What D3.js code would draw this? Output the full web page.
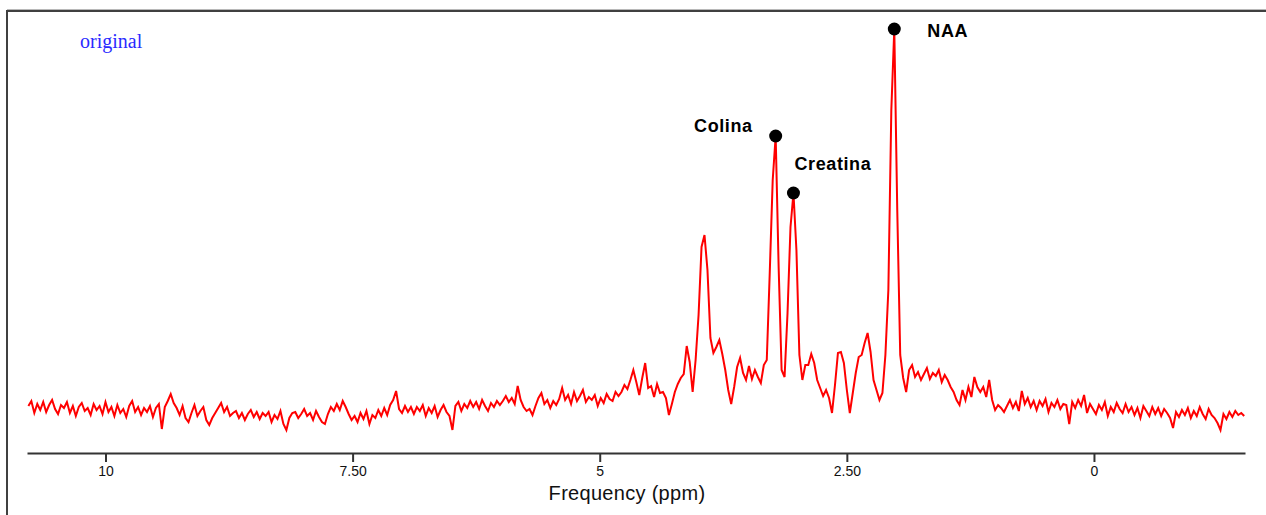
<!DOCTYPE html>
<html>
<head>
<meta charset="utf-8">
<script src="https://cdn.jsdelivr.net/npm/d3@7"></script>
<style>
  html, body { margin: 0; padding: 0; background: #ffffff; }
  svg { display: block; }
</style>
</head>
<body>
<svg id="chart" width="1266" height="515"></svg>
<script>
// ---- Data ----
// Spectrum sampled on a uniform frequency grid (ppm), starting at ppmStart, step ppmStep (decreasing ppm)
const ppmStart = 10.78;
const ppmStep = 0.03;
// Signal intensity (arbitrary units), one value per grid point
const intensity = [
  4, 9, -3, 6, 0, 8, -2, 5, 10, 1,
  -4, 5, 2, 8, -3, 4, -6, 3, 7, -1,
  2, -5, 6, 0, 4, -4, 8, -2, 3, -6,
  5, -3, 1, -7, 4, 9, -2, 3, -5, 2,
  -2, 4, -7, 2, 6, -19, 3, 9, 16, 7,
  2, -5, 4, -8, -12, -3, 5, -6, -1, 3,
  -10, -15, -8, -3, 2, 7, -2, 3, -6, -3,
  -1, -8, -3, -10, -4, 0, -7, -2, -9, -3,
  -6, -2, -12, -5, -9, -1, -14, -20, -8, -3,
  -2, -8, -4, 1, -6, -3, -10, -1, -7, -12,
  -14, -4, 3, -1, 6, 0, 9, 3, -4, -10,
  -6, -12, -3, -9, -1, -14, -5, -8, 0, -6,
  2, -5, 5, 10, 19, 1, -3, 4, -2, 3,
  -4, 3, -1, 5, -6, 2, -3, 4, -7, 0,
  5, -2, -6, -20, 4, 8, -1, 6, 2, 9,
  3, 8, 1, 10, 4, -1, 7, 3, 9, 5,
  9, 14, 8, 12, 6, 24, 10, 3, -1, 1,
  -5, 4, 12, 17, 6, 10, 2, 9, 5, 11,
  22, 10, 15, 6, 18, 9, 14, 20, 8, 13,
  10, 15, 4, 12, 7, 16, 11, 9, 18, 14,
  18, 25, 21, 30, 40, 28, 15, 32, 47, 22,
  24, 13, 26, 17, 18, 12, -5, 6, 18, 26,
  32, 36, 64, 48, 18, 50, 95, 163, 175, 140,
  72, 57, 63, 70, 56, 40, 20, 6, 23, 43,
  52, 37, 30, 44, 31, 40, 33, 27, 45, 50,
  137, 230, 274, 143, 40, 33, 97, 183, 217, 160,
  55, 30, 45, 45, 56, 47, 30, 22, 14, 20,
  12, -3, 25, 57, 58, 47, 20, -3, 17, 37,
  53, 55, 67, 77, 58, 30, 20, 10, 17, 55,
  120, 300, 381, 200, 55, 32, 18, 40, 45, 33,
  38, 30, 36, 42, 31, 37, 34, 40, 28, 35,
  30, 23, 18, 10, 5, 20, 10, 23, 13, 33,
  23, 18, 23, 13, 30, 10, 0, 5, 2, -2,
  4, 10, 2, 8, -1, 19, 6, 12, 3, 9,
  0, 9, 4, 11, -2, 7, 3, 10, 1, 6,
  5, -14, 8, 2, 10, 4, 15, -3, 6, 1,
  -4, 5, 0, 8, -6, 3, -2, 7, 1, -3,
  6, -2, 3, -5, 2, -8, 4, -1, -6, 3,
  -4, 2, -6, 1, -3, -8, -18, -2, -7, 0,
  -5, 2, -8, -1, -6, 3, -4, -9, 1, -5,
  -8, -13, -20, -4, -9, -2, -7, -1, -5, -3, -6
];
// Labelled metabolite peaks
const peakNames = ["Colina", "Creatina", "NAA"];
const peakPpm = [3.22, 3.04, 2.02];
// Axis ticks
const tickValues = [10, 7.5, 5, 2.5, 0];
const tickLabels = ["10", "7.50", "5", "2.50", "0"];
const axisTitle = "Frequency (ppm)";
const seriesLabel = "original";

// ---- Layout / style ----
const W = 1266, H = 515;
const ppmDomain = [10.794, -1.528];
const plot = { left: 27, right: 1245, axisY: 453, baseY: 410, topY: 29 };
const labelOffsets = {
  "Colina":   { dx: -23, dy: -4, anchor: "end" },
  "Creatina": { dx: 1, dy: -23, anchor: "start" },
  "NAA":      { dx: 33, dy: 8, anchor: "start" }
};

const svg = d3.select("#chart");
svg.append("rect").attr("width", W).attr("height", H).attr("fill", "#ffffff");

// frame (left and top edges visible)
svg.append("line").attr("x1", 7).attr("x2", W).attr("y1", 9.5).attr("y2", 9.5)
  .attr("stroke", "#b8b8b8").attr("stroke-width", 1);
svg.append("line").attr("x1", 7).attr("x2", W).attr("y1", 11).attr("y2", 11)
  .attr("stroke", "#404040").attr("stroke-width", 2);
svg.append("line").attr("x1", 7).attr("x2", 7).attr("y1", 10).attr("y2", H)
  .attr("stroke", "#404040").attr("stroke-width", 2);

const x = d3.scaleLinear().domain(ppmDomain).range([plot.left, plot.right]);
const y = d3.scaleLinear().domain([0, 381]).range([plot.baseY, plot.topY]);

const points = intensity.map((v, i) => ({ ppm: ppmStart - i * ppmStep, v }));

// spectrum line
const line = d3.line().x(d => x(d.ppm)).y(d => y(d.v));
svg.append("path").datum(points)
  .attr("d", line)
  .attr("fill", "none")
  .attr("stroke", "#ff0000")
  .attr("stroke-width", 2)
  .attr("stroke-linejoin", "miter");

// x axis
const axis = d3.axisBottom(x)
  .tickValues(tickValues)
  .tickFormat((d, i) => tickLabels[i])
  .tickSizeOuter(0)
  .tickSizeInner(9)
  .tickPadding(4);
const gAxis = svg.append("g").attr("transform", `translate(0,${plot.axisY})`).call(axis);
gAxis.select(".domain").attr("stroke", "#333333").attr("stroke-width", 2.2);
gAxis.selectAll(".tick line").attr("stroke", "#333333").attr("stroke-width", 2);
gAxis.selectAll(".tick text")
  .attr("font-family", "'Liberation Sans', Arial, sans-serif")
  .attr("font-size", 14)
  .attr("fill", "#111111");

svg.append("text")
  .attr("x", 627).attr("y", 500)
  .attr("text-anchor", "middle")
  .attr("font-family", "'Liberation Sans', Arial, sans-serif")
  .attr("font-size", 20)
  .attr("letter-spacing", 0.3)
  .attr("fill", "#111111")
  .text(axisTitle);

// series label
svg.append("text")
  .attr("x", 80).attr("y", 48)
  .attr("font-family", "'Liberation Serif', 'Times New Roman', serif")
  .attr("font-size", 20)
  .attr("fill", "#2a2aff")
  .text(seriesLabel);

// peak markers and labels
peakNames.forEach((name, i) => {
  const p = points.reduce((best, d) =>
    Math.abs(d.ppm - peakPpm[i]) < Math.abs(best.ppm - peakPpm[i]) ? d : best, points[0]);
  const cx = x(p.ppm), cy = y(p.v);
  svg.append("circle").attr("cx", cx).attr("cy", cy).attr("r", 6.5).attr("fill", "#000000");
  const o = labelOffsets[name];
  svg.append("text")
    .attr("x", cx + o.dx).attr("y", cy + o.dy)
    .attr("text-anchor", o.anchor)
    .attr("font-family", "'Liberation Sans', Arial, sans-serif")
    .attr("font-weight", "bold")
    .attr("font-size", 18)
    .attr("letter-spacing", 0.6)
    .attr("fill", "#000000")
    .text(name);
});
</script>
</body>
</html>
